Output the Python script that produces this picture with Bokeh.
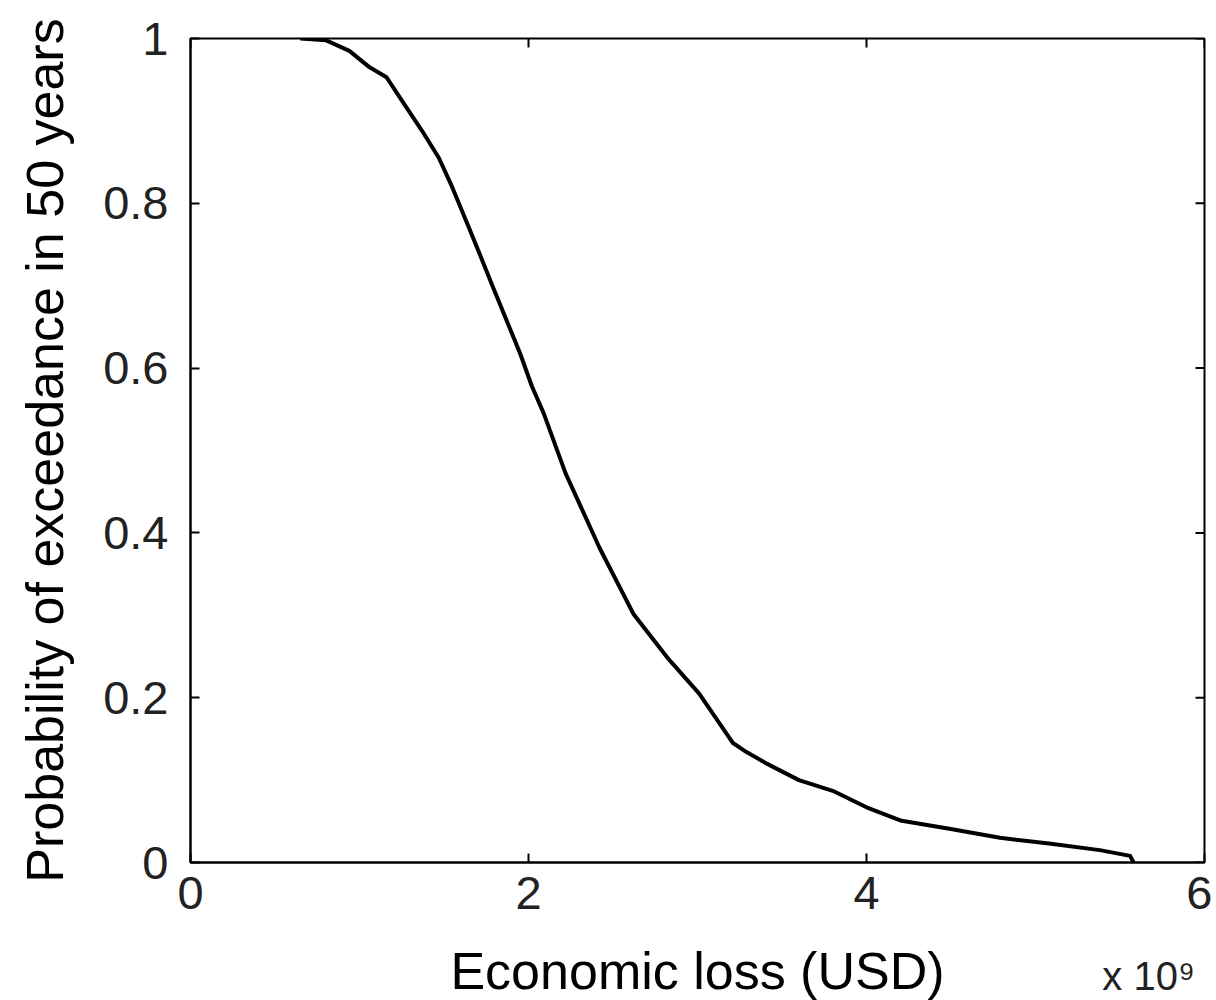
from bokeh.plotting import figure
from bokeh.models import LinearAxis, FixedTicker, Range1d
from bokeh.embed import file_html
from bokeh.resources import INLINE

# Economic loss (x 1e9 USD) and probability of exceedance in 50 years
loss = [0.65, 0.80, 0.94, 1.06, 1.16, 1.25, 1.37, 1.47, 1.55, 1.63, 1.71, 1.79,
        1.87, 1.95, 2.02, 2.09, 2.22, 2.42, 2.62, 2.82, 3.01, 3.21, 3.29, 3.41,
        3.60, 3.80, 4.00, 4.20, 4.49, 4.79, 5.08, 5.38, 5.56, 5.58]
prob = [1.0, 0.998, 0.985, 0.965, 0.953, 0.925, 0.888, 0.855, 0.819, 0.779,
        0.739, 0.698, 0.658, 0.618, 0.578, 0.545, 0.472, 0.382, 0.302, 0.249,
        0.205, 0.145, 0.134, 0.120, 0.100, 0.087, 0.067, 0.051, 0.041, 0.030,
        0.023, 0.015, 0.008, 0.0]

x_ticks = [0, 2, 4, 6]
y_ticks = [0, 0.2, 0.4, 0.6, 0.8, 1.0]
y_tick_labels = {0: "0", 0.2: "0.2", 0.4: "0.4", 0.6: "0.6", 0.8: "0.8", 1.0: "1"}
x_label = "Economic loss (USD)"
y_label = "Probability of exceedance in 50 years"
x_multiplier = "x 10\u2079"
x_multiplier_pos = 5.67

FONT = "Liberation Sans"
FRAME_W, FRAME_H = 1014, 824
TICK_LEN = 9

p = figure(frame_width=FRAME_W, frame_height=FRAME_H, output_backend="svg",
           toolbar_location=None, x_range=Range1d(0, 6), y_range=Range1d(0, 1),
           min_border_left=190, min_border_top=38, min_border_right=8,
           min_border_bottom=4, background_fill_color="white",
           border_fill_color="white")
p.xgrid.visible = False
p.ygrid.visible = False
p.outline_line_color = "black"
p.outline_line_width = 2

p.line(loss, prob, line_color="black", line_width=4, line_join="round")

# mirrored inward ticks on the top and right edges
n = len(x_ticks)
p.segment(x0=x_ticks, y0=[1.0] * n, x1=x_ticks,
          y1=[1.0 - TICK_LEN / FRAME_H] * n, line_color="black", line_width=2)
m = len(y_ticks)
p.segment(x0=[6.0] * m, y0=y_ticks, x1=[6.0 - 6.0 * TICK_LEN / FRAME_W] * m,
          y1=y_ticks, line_color="black", line_width=2)


def style(ax, ticks):
    ax.ticker = FixedTicker(ticks=ticks)
    ax.major_tick_in = TICK_LEN
    ax.major_tick_out = 0
    ax.minor_tick_line_color = None
    ax.major_tick_line_color = "black"
    ax.major_tick_line_width = 2
    ax.axis_line_color = "black"
    ax.axis_line_width = 2
    ax.major_label_text_font = FONT
    ax.major_label_text_font_size = "47px"
    ax.major_label_text_color = "#222222"
    ax.axis_label_text_font = FONT
    ax.axis_label_text_font_size = "52px"
    ax.axis_label_text_font_style = "normal"
    ax.axis_label_text_color = "black"


xa = p.xaxis[0]
style(xa, x_ticks)
xa.major_label_standoff = 14

ya = p.yaxis[0]
style(ya, y_ticks)
ya.major_label_overrides = y_tick_labels
ya.axis_label = y_label
ya.major_label_standoff = 22
ya.axis_label_standoff = 26

# second row under the x axis: axis title and the x 10^9 multiplier
xb = LinearAxis()
style(xb, [x_multiplier_pos])
xb.axis_line_color = None
xb.major_tick_line_color = None
xb.major_tick_in = 0
xb.major_label_overrides = {x_multiplier_pos: x_multiplier}
xb.major_label_text_font_size = "40px"
xb.major_label_standoff = 42
xb.axis_label = x_label
xb.axis_label_standoff = -59
p.add_layout(xb, "below")

open("out.html", "w").write(file_html(p, INLINE))
